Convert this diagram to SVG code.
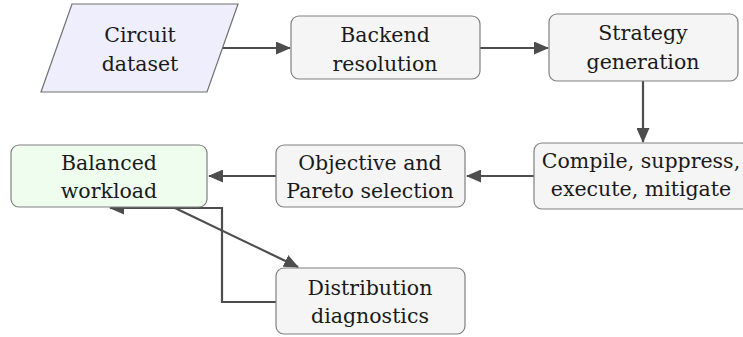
<svg xmlns="http://www.w3.org/2000/svg" width="743" height="337" viewBox="0 0 743 337">
<style>
  .box { fill: #f5f5f5; stroke: #808080; stroke-width: 1.2; }
  .green { fill: #effdef; }
  .data { fill: #eeeefc; stroke: #707070; stroke-width: 1.2; }
  .lbl { font-family: "DejaVu Serif", "Liberation Serif", serif; font-size: 20.5px; fill: #1a1a1a; text-anchor: middle; }
  .edge { fill: none; stroke: #4d4d4d; stroke-width: 2.2; marker-end: url(#arr); }
</style>
<defs>
  <marker id="arr" markerUnits="userSpaceOnUse" markerWidth="15" markerHeight="13" refX="14" refY="6.5" orient="auto">
    <path d="M0,0 L15,6.5 L0,13 Z" fill="#4d4d4d"/>
  </marker>
</defs>
<g id="connectors">
  <path class="edge" d="M222,48 L290,48"/>
  <path class="edge" d="M480,48 L548,48"/>
  <path class="edge" d="M643,81 L643,142"/>
  <path class="edge" d="M534,176 L467,176"/>
  <path class="edge" d="M276,176 L209,176"/>
  <path class="edge" d="M175,208 L298,267"/>
  <path class="edge" d="M276,302 L222,302 L222,208 L110,208"/>
</g>
<g id="circuit-dataset">
  <polygon class="data" points="72,4 238,4 207,92 41,92"/>
  <text class="lbl" x="140" y="42">Circuit</text>
  <text class="lbl" x="140" y="71">dataset</text>
</g>
<g id="backend-resolution">
  <rect class="box" x="291" y="16" width="189" height="63" rx="8"/>
  <text class="lbl" x="385" y="42">Backend</text>
  <text class="lbl" x="385" y="71">resolution</text>
</g>
<g id="strategy-generation">
  <rect class="box" x="549" y="14" width="189" height="67" rx="8"/>
  <text class="lbl" x="643" y="40">Strategy</text>
  <text class="lbl" x="643" y="69">generation</text>
</g>
<g id="compile-execute">
  <rect class="box" x="534" y="143" width="215" height="66" rx="8"/>
  <text class="lbl" x="641" y="168">Compile, suppress,</text>
  <text class="lbl" x="641" y="196">execute, mitigate</text>
</g>
<g id="objective-pareto">
  <rect class="box" x="276" y="145" width="189" height="62" rx="8"/>
  <text class="lbl" x="370" y="170">Objective and</text>
  <text class="lbl" x="370" y="198">Pareto selection</text>
</g>
<g id="balanced-workload">
  <rect class="box green" x="11" y="145" width="196" height="62" rx="8"/>
  <text class="lbl" x="109" y="170">Balanced</text>
  <text class="lbl" x="109" y="198">workload</text>
</g>
<g id="distribution-diagnostics">
  <rect class="box" x="276" y="268" width="189" height="66" rx="8"/>
  <text class="lbl" x="370" y="295">Distribution</text>
  <text class="lbl" x="370" y="323">diagnostics</text>
</g>
</svg>
